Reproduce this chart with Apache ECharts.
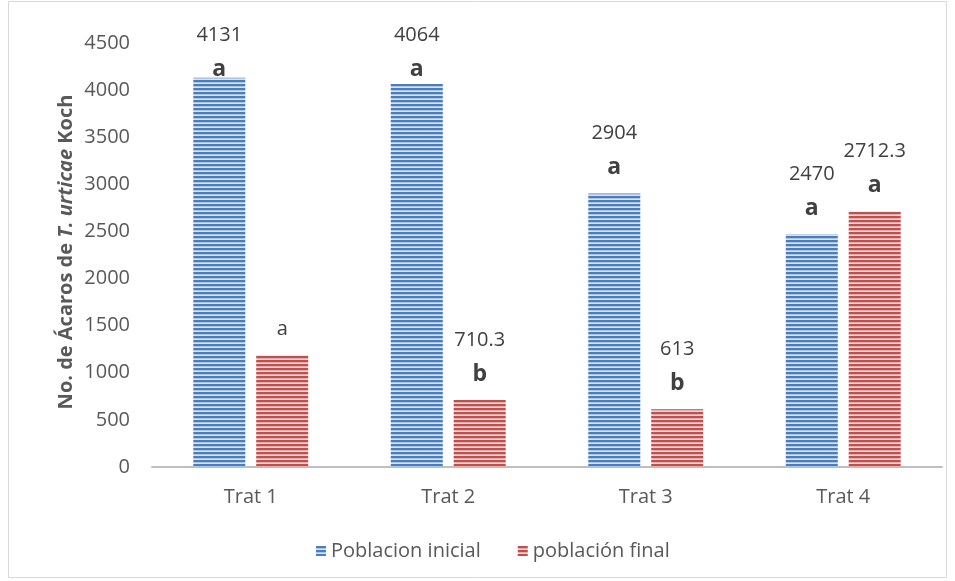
<!DOCTYPE html>
<html>
<head>
<meta charset="utf-8">
<script src="https://cdn.jsdelivr.net/npm/echarts@6/dist/echarts.min.js"></script>
<style>html,body{margin:0;padding:0;background:#fff;}#c{width:955px;height:581px;}</style>
</head>
<body>
<div id="c"></div>
<script>
// ---- data ----
var categories = ['Trat 1', 'Trat 2', 'Trat 3', 'Trat 4'];
var seriesNames = ['Poblacion inicial', 'población final'];
var inicialValues = [4131, 4064, 2904, 2470];
var finalValues = [1185, 710.3, 613, 2712.3];
var inicialLetters = ['a', 'a', 'a', 'a'];
var finalLetters = ['a', 'b', 'b', 'a'];
var inicialShowValue = [true, true, true, true];
var finalShowValue = [false, true, true, true];
var yTicks = [0, 500, 1000, 1500, 2000, 2500, 3000, 3500, 4000, 4500];

var FONT = 'Open Sans';
function stripe(dark, light) {
  var c = document.createElement('canvas');
  c.width = 4; c.height = 4;
  var g = c.getContext('2d');
  g.fillStyle = light; g.fillRect(0, 0, 4, 4);
  g.fillStyle = dark; g.fillRect(0, 0, 4, 2);
  g.globalAlpha = 0.5; g.fillRect(0, 2, 4, 0.6);
  return { image: c, repeat: 'repeat' };
}
var bluePat = stripe('#4a7dbb', '#dae4f1');
var redPat = stripe('#c0504d', '#f2d9d8');

var rich = {
  v: { fontFamily: FONT, fontSize: 20, color: '#404040', lineHeight: 34 },
  l: { fontFamily: FONT, fontSize: 23, fontWeight: 'bold', color: '#404040', lineHeight: 34 },
  n: { fontFamily: FONT, fontSize: 20, color: '#404040', lineHeight: 34 }
};

function buildData(values, letters, show, dists) {
  return values.map(function (v, i) {
    return {
      value: v,
      label: {
        show: true, position: 'top', distance: dists ? dists[i] : 9,
        formatter: show[i] ? '{v|' + v + '}\n{l|' + letters[i] + '}' : '{n|' + letters[i] + '}',
        rich: rich
      }
    };
  });
}

var chart = echarts.init(document.getElementById('c'));
function makeOption(d1, d2) {
  return {
    animation: false,
    backgroundColor: '#ffffff',
    textStyle: { fontFamily: FONT },
    graphic: [{
      type: 'rect', shape: { x: 8.5, y: 1.5, width: 938, height: 576 },
      style: { fill: 'none', stroke: '#d9d9d9', lineWidth: 1 }, silent: true
    }, {
      type: 'text', x: 66, y: 252, rotation: Math.PI / 2, silent: true,
      style: {
        text: '{b|No. de Ácaros de }{i|T. urticae}{b| Koch}',
        align: 'center', verticalAlign: 'middle',
        rich: {
          b: { fontFamily: FONT, fontSize: 20, fontWeight: 'bold', fill: '#595959' },
          i: { fontFamily: FONT, fontSize: 20, fontWeight: 'bold', fontStyle: 'italic', fill: '#595959' }
        }
      }
    }],
    grid: { left: 152, right: 13, top: 43, bottom: 114 },
    legend: {
      left: 311, top: 536, itemWidth: 10, itemHeight: 10, itemGap: 37,
      icon: 'rect',
      textStyle: { fontFamily: FONT, fontSize: 20, color: '#595959' },
      data: seriesNames
    },
    xAxis: {
      type: 'category', data: categories,
      axisLine: { lineStyle: { color: '#bfbfbf', width: 2 } },
      axisTick: { show: false },
      axisLabel: { fontFamily: FONT, fontSize: 20, color: '#595959', margin: 20 }
    },
    yAxis: {
      type: 'value', min: yTicks[0], max: yTicks[yTicks.length - 1], interval: 500,
      axisLine: { show: false }, axisTick: { show: false },
      splitLine: { show: false },
      axisLabel: { fontFamily: FONT, fontSize: 20, color: '#595959', margin: 22,
        formatter: function (v) { return String(v); } }
    },
    series: [{
      name: seriesNames[0], type: 'bar', barWidth: 52, barGap: '21%',
      itemStyle: { color: bluePat },
      data: buildData(inicialValues, inicialLetters, inicialShowValue, d1)
    }, {
      name: seriesNames[1], type: 'bar', barWidth: 52, barGap: '21%',
      itemStyle: { color: redPat },
      data: buildData(finalValues, finalLetters, finalShowValue, d2)
    }]
  };
}
chart.setOption(makeOption());
// clamp labels that would run above the plot top (as in the original)
function dists(values) {
  return values.map(function (v, i) {
    var top = chart.convertToPixel({ xAxisIndex: 0, yAxisIndex: 0 }, [i, v])[1];
    var numCenter = Math.max(35, top - 60);
    return Math.min(9, top - numCenter - 51);
  });
}
chart.setOption(makeOption(dists(inicialValues), dists(finalValues)), true);
</script>
</body>
</html>
